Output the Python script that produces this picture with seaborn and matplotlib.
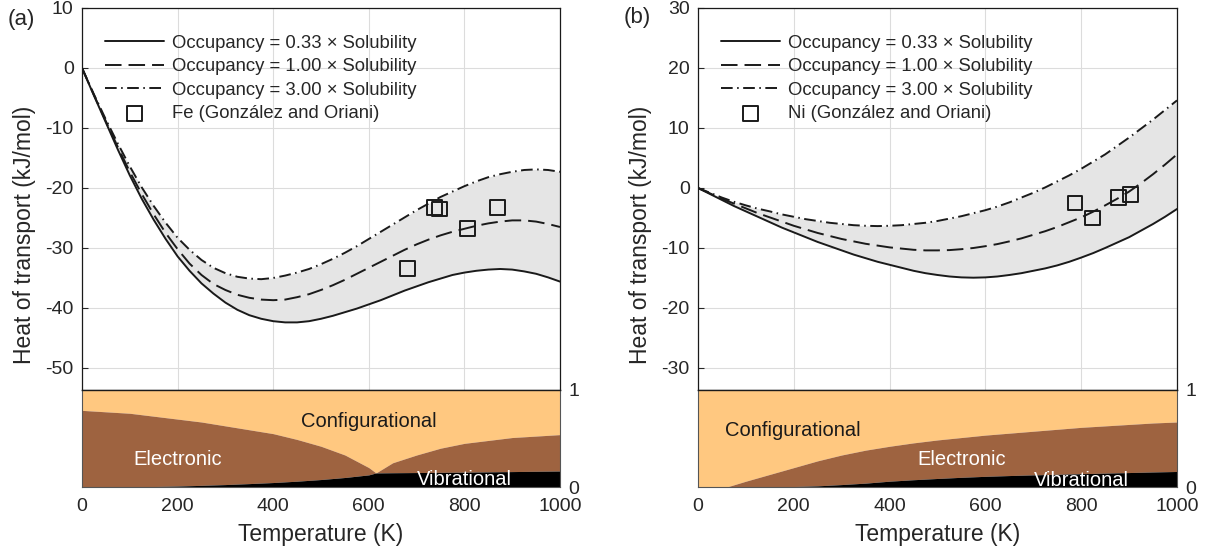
import matplotlib
matplotlib.use("Agg")
import matplotlib.pyplot as plt
import seaborn as sns

# ---------------- data ----------------
temps = [0, 25, 50, 75, 100, 125, 150, 175, 200, 225, 250, 275, 300, 325, 350,
         375, 400, 425, 450, 475, 500, 525, 550, 575, 600, 625, 650, 675, 700,
         725, 750, 775, 800, 825, 850, 875, 900, 925, 950, 975, 1000]

# panel (a): Fe
q_a_033 = [0, -4.6, -9.1, -13.6, -17.9, -21.8, -25.3, -28.5, -31.4, -33.8, -35.9,
           -37.6, -39.1, -40.3, -41.2, -41.8, -42.2, -42.4, -42.4, -42.2, -41.8,
           -41.3, -40.7, -40.1, -39.4, -38.7, -37.9, -37.1, -36.4, -35.7, -35.1,
           -34.5, -34.1, -33.8, -33.6, -33.5, -33.6, -33.9, -34.3, -34.9, -35.6]
q_a_100 = [0, -4.5, -8.9, -13.2, -17.3, -21.0, -24.4, -27.5, -30.2, -32.6, -34.5,
           -36.0, -37.0, -37.8, -38.3, -38.6, -38.7, -38.6, -38.2, -37.7, -37.0,
           -36.2, -35.3, -34.3, -33.3, -32.3, -31.3, -30.3, -29.4, -28.6, -27.9,
           -27.3, -26.8, -26.3, -25.9, -25.6, -25.4, -25.4, -25.6, -26.0, -26.5]
q_a_300 = [0, -4.4, -8.6, -12.6, -16.4, -19.9, -23.0, -25.8, -28.3, -30.3, -32.0,
           -33.3, -34.2, -34.8, -35.1, -35.2, -35.0, -34.6, -34.1, -33.5, -32.7,
           -31.8, -30.8, -29.7, -28.5, -27.3, -26.1, -24.9, -23.7, -22.6, -21.5,
           -20.6, -19.7, -18.9, -18.2, -17.7, -17.3, -17.0, -16.9, -17.0, -17.3]
exp_t_a = [681, 737, 748, 807, 869]
exp_q_a = [-33.4, -23.2, -23.5, -26.8, -23.2]

# panel (b): Ni
q_b_033 = [0, -1.0, -2.0, -3.0, -3.9, -4.8, -5.7, -6.6, -7.4, -8.2, -9.0,
           -9.7, -10.4, -11.1, -11.7, -12.3, -12.8, -13.3, -13.8, -14.2, -14.5,
           -14.75, -14.9, -14.95, -14.9, -14.75, -14.5, -14.2, -13.8, -13.4, -12.9,
           -12.3, -11.6, -10.85, -10.0, -9.1, -8.2, -7.1, -6.0, -4.8, -3.5]
q_b_100 = [0, -0.9, -1.8, -2.6, -3.4, -4.2, -4.9, -5.6, -6.3, -6.9, -7.5,
           -8.0, -8.5, -8.9, -9.3, -9.6, -9.9, -10.1, -10.3, -10.4, -10.4,
           -10.35, -10.2, -10.0, -9.7, -9.35, -8.9, -8.4, -7.8, -7.2, -6.5,
           -5.7, -4.9, -3.95, -2.9, -1.8, -0.6, 0.8, 2.3, 3.9, 5.6]
q_b_300 = [0, -0.8, -1.6, -2.3, -2.9, -3.45, -3.9, -4.4, -4.8, -5.2, -5.5,
           -5.8, -6.0, -6.2, -6.3, -6.35, -6.3, -6.2, -6.0, -5.8, -5.5,
           -5.1, -4.7, -4.2, -3.7, -3.1, -2.4, -1.6, -0.8, 0.1, 1.1,
           2.1, 3.2, 4.4, 5.6, 7.0, 8.4, 9.9, 11.4, 13.0, 14.6]
exp_t_b = [787, 823, 878, 902]
exp_q_b = [-2.5, -5.0, -1.6, -1.1]

# cumulative fractions (top of vibrational band, top of electronic band)
area_t_a = [0, 50, 100, 150, 200, 250, 300, 350, 400, 450, 500, 550, 600, 615,
            650, 700, 750, 800, 850, 900, 950, 1000]
vib_top_a = [0, 0.000, 0.002, 0.005, 0.010, 0.017, 0.025, 0.035, 0.046, 0.060,
             0.077, 0.098, 0.125, 0.145, 0.147, 0.149, 0.151, 0.153, 0.156,
             0.159, 0.162, 0.165]
elec_top_a = [0.79, 0.775, 0.76, 0.73, 0.70, 0.67, 0.63, 0.59, 0.55, 0.49, 0.42,
              0.33, 0.20, 0.145, 0.25, 0.33, 0.40, 0.45, 0.48, 0.51, 0.525, 0.54]

area_t_b = [0, 50, 60, 100, 150, 200, 250, 300, 350, 400, 450, 500, 550, 600,
            650, 700, 750, 800, 850, 900, 950, 1000]
vib_top_b = [0, 0, 0, 0.0, 0.001, 0.005, 0.012, 0.025, 0.040, 0.060, 0.075,
             0.088, 0.100, 0.110, 0.118, 0.125, 0.131, 0.137, 0.143, 0.149,
             0.155, 0.160]
elec_top_b = [0, 0, 0.0, 0.06, 0.13, 0.20, 0.27, 0.33, 0.38, 0.42, 0.455, 0.485,
              0.51, 0.535, 0.555, 0.575, 0.595, 0.615, 0.63, 0.645, 0.66, 0.67]

occ_labels = ["Occupancy = 0.33 \u00d7 Solubility",
              "Occupancy = 1.00 \u00d7 Solubility",
              "Occupancy = 3.00 \u00d7 Solubility"]
exp_label_a = "Fe (Gonz\u00e1lez and Oriani)"
exp_label_b = "Ni (Gonz\u00e1lez and Oriani)"
x_ticks = [0, 200, 400, 600, 800, 1000]
y_ticks_a = [-50, -40, -30, -20, -10, 0, 10]
y_ticks_b = [-30, -20, -10, 0, 10, 20, 30]

# ---------------- style ----------------
sns.set_theme(style="white")
plt.rcParams["font.family"] = ["Liberation Sans", "DejaVu Sans"]
plt.rcParams["axes.unicode_minus"] = False
TXT = "#262626"
C_CONF = "#FFC880"
C_ELEC = "#9E6340"
C_VIB = "#000000"
C_FILL = "#E5E5E5"
GRID = "#DCDCDC"

fig = plt.figure(figsize=(12.05, 5.52), dpi=100)
W, H = 1205.0, 552.0


def box(x0, y0, x1, y1):
    return [x0 / W, 1 - y1 / H, (x1 - x0) / W, (y1 - y0) / H]


dash = (0, (8.5, 3.6))
dashdot = (0, (6.0, 2.3, 0.8, 2.3))


def panel(x0, x1, q1, q2, q3, et, eq, elabel, ylim, yticks,
          at, vtop, etop, conf_xy, elec_xy, vib_xy):
    ax = fig.add_axes(box(x0, 8, x1, 390))
    axa = fig.add_axes(box(x0, 390, x1, 487))

    ax.fill_between(temps, q1, q3, color=C_FILL, lw=0, zorder=1)
    sns.lineplot(x=temps, y=q1, ax=ax, color="k", lw=1.4, ls="-",
                 label=occ_labels[0], sort=False, estimator=None, zorder=3)
    sns.lineplot(x=temps, y=q2, ax=ax, color="k", lw=1.4, ls=dash,
                 label=occ_labels[1], sort=False, estimator=None, zorder=3)
    sns.lineplot(x=temps, y=q3, ax=ax, color="k", lw=1.4, ls=dashdot,
                 label=occ_labels[2], sort=False, estimator=None, zorder=3)
    sns.scatterplot(x=et, y=eq, ax=ax, marker="s", s=115, facecolor="none",
                    edgecolor="k", linewidth=1.4, label=elabel, zorder=4)

    ax.set_xlim(0, 1000)
    ax.set_ylim(*ylim)
    ax.set_xticks(x_ticks)
    ax.set_yticks(yticks)
    ax.grid(True, color=GRID, lw=0.8, zorder=0)
    ax.set_axisbelow(True)
    ax.tick_params(axis="x", bottom=False, labelbottom=False)
    ax.tick_params(axis="y", left=True, direction="in", length=4, width=0.8,
                   labelsize=14, labelcolor=TXT, pad=6, color=TXT)
    for sp in ax.spines.values():
        sp.set_color("k")
        sp.set_linewidth(0.9)
    ax.set_xlabel("")
    ax.set_ylabel("")
    handles, labels = ax.get_legend_handles_labels()
    ax.legend(handles, labels, loc="upper left", bbox_to_anchor=(0.048, 0.930),
              frameon=False, fontsize=13.3, borderpad=0, borderaxespad=0,
              handlelength=3.2, handletextpad=0.45, labelspacing=0.35,
              labelcolor=TXT)

    axa.fill_between(at, etop, 1, color=C_CONF, lw=0)
    axa.fill_between(at, vtop, etop, color=C_ELEC, lw=0)
    axa.fill_between(at, 0, vtop, color=C_VIB, lw=0)
    axa.set_xlim(0, 1000)
    axa.set_ylim(0, 1)
    axa.set_xticks(x_ticks)
    axa.set_yticks([0, 1])
    axa.yaxis.tick_right()
    axa.tick_params(axis="x", length=0, labelsize=14, labelcolor=TXT, pad=8)
    axa.tick_params(axis="y", length=0, labelsize=14, labelcolor=TXT, pad=6)
    for name, sp in axa.spines.items():
        sp.set_color("#555555")
        sp.set_linewidth(0.8)
    axa.spines["top"].set_color("k")
    axa.spines["top"].set_linewidth(1.0)
    axa.text(*conf_xy, "Configurational", color="k", fontsize=14.5,
             ha="center", va="center")
    axa.text(*elec_xy, "Electronic", color="white", fontsize=14.5,
             ha="center", va="center")
    axa.text(*vib_xy, "Vibrational", color="white", fontsize=14.5,
             ha="center", va="center")
    return ax, axa


panel(82, 560, q_a_033, q_a_100, q_a_300, exp_t_a, exp_q_a,
      exp_label_a, (-53.67, 10), y_ticks_a, area_t_a, vib_top_a, elec_top_a,
      (600, 0.68), (200, 0.28), (799, 0.08))
panel(698, 1177, q_b_033, q_b_100, q_b_300, exp_t_b, exp_q_b,
      exp_label_b, (-33.67, 30), y_ticks_b, area_t_b, vib_top_b, elec_top_b,
      (198, 0.58), (551, 0.28), (801, 0.07))

ylab = "Heat of transport (kJ/mol)"
xlab = "Temperature (K)"
fig.text(25 / W, 1 - 235 / H, ylab, rotation=90, ha="center", va="center",
         fontsize=16.5, color=TXT)
fig.text(641 / W, 1 - 235 / H, ylab, rotation=90, ha="center", va="center",
         fontsize=16.5, color=TXT)
fig.text(321 / W, 1 - 534 / H, xlab, ha="center", va="center",
         fontsize=16.5, color=TXT)
fig.text(937.5 / W, 1 - 534 / H, xlab, ha="center", va="center",
         fontsize=16.5, color=TXT)
fig.text(21 / W, 1 - 19 / H, "(a)", ha="center", va="center", fontsize=16,
         color=TXT)
fig.text(637 / W, 1 - 18 / H, "(b)", ha="center", va="center", fontsize=16,
         color=TXT)

fig.savefig("out.png", dpi=100)
